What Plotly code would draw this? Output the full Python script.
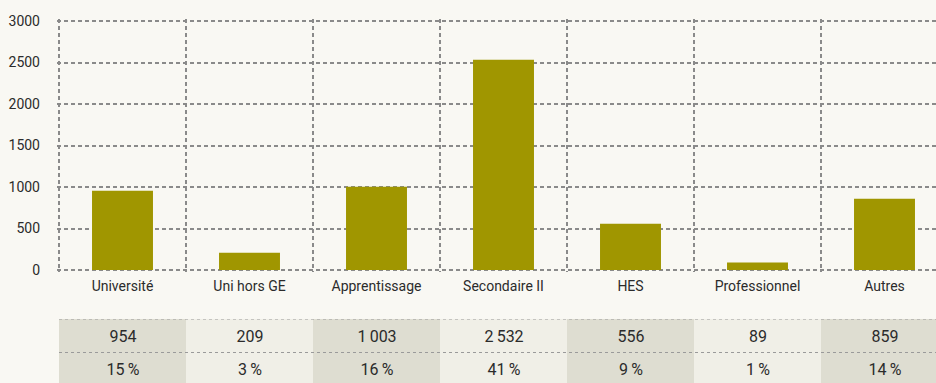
import plotly.graph_objects as go

# Formation categories and counts
categories = ["Université", "Uni hors GE", "Apprentissage", "Secondaire II", "HES", "Professionnel", "Autres"]
counts = [954, 209, 1003, 2532, 556, 89, 859]
shares = [15, 3, 16, 41, 9, 1, 14]
y_ticks = [0, 500, 1000, 1500, 2000, 2500, 3000]

BG = "#f9f8f3"
BAR = "#a09600"
CELL_DARK = "#deddd1"
CELL_LIGHT = "#f0efe7"
TXT = "#2b2b2b"
GRID = "#8a8a8a"
FONT = "Roboto, Arial, sans-serif"

W, H = 936, 383
slot = 127          # pixel width of one category column
x_left_px = 59      # left edge of the first column
y_top_px, y_zero_px = 21, 270
Y_MAX = 3000
EDGE = 2            # pixels of slack so the outer gridlines are drawn
px_per_unit = (y_zero_px - y_top_px) / Y_MAX
pad_units = EDGE / px_per_unit
ML = x_left_px - EDGE


def fmt_num(v):
    return f"{v:,}".replace(",", "\u2009")


def paper_y(py):
    return 1 - py / H


xs = list(range(len(categories)))
x_lo = -0.5 - EDGE / slot
x_hi = x_lo + (W - ML) / slot

fig = go.Figure()

fig.add_trace(go.Bar(
    x=xs, y=counts, marker=dict(color=BAR, line=dict(width=0)),
    width=0.48, hoverinfo="skip", xaxis="x", yaxis="y",
))

# Table below the chart: counts and percentages, alternating column shading
row_text = [[fmt_num(v) for v in counts], [f"{s}\u2009%" for s in shares]]
shade = [i % 2 for i in xs]
fig.add_trace(go.Heatmap(
    x=xs, y=[0, 1], z=[shade, shade],
    colorscale=[[0, CELL_DARK], [1, CELL_LIGHT]], showscale=False,
    text=row_text, texttemplate="%{text}",
    textfont=dict(family=FONT, size=16, color=TXT),
    hoverinfo="skip", xaxis="x2", yaxis="y2", xgap=0, ygap=0,
))

row_h = 33.5
table_top = 319
y2_bottom = -0.5 + (H - table_top) / row_h

for yv in (-0.5, 0.5):
    fig.add_shape(type="line", xref="x2", yref="y2", x0=-0.5, x1=x_hi, y0=yv, y1=yv,
                  line=dict(color="#9a9a9a", width=1, dash="dot"), layer="above")

grid_common = dict(gridcolor=GRID, gridwidth=1.5, griddash="4px,3px")
no_axis = dict(zeroline=False, showline=False, ticks="", automargin=False, fixedrange=True)

fig.update_layout(
    width=W, height=H,
    margin=dict(l=ML, r=0, t=0, b=0, pad=0),
    paper_bgcolor=BG, plot_bgcolor=BG,
    showlegend=False,
    font=dict(family=FONT, size=14, color=TXT),
    xaxis=dict(
        domain=[0, 1], range=[x_lo, x_hi],
        tickmode="array", tickvals=xs, ticktext=categories,
        showgrid=False, ticklabelstandoff=4,
        tickfont=dict(family=FONT, size=14, color=TXT),
        minor=dict(tickmode="linear", tick0=-0.5, dtick=1, showgrid=True, ticks="", **grid_common),
        **no_axis,
    ),
    yaxis=dict(
        domain=[paper_y(y_zero_px + EDGE), paper_y(y_top_px - EDGE)],
        range=[-pad_units, Y_MAX + pad_units],
        tickmode="array", tickvals=y_ticks,
        showgrid=True, ticklabelstandoff=14 + EDGE,
        tickfont=dict(family=FONT, size=14, color=TXT),
        **grid_common, **no_axis,
    ),
    xaxis2=dict(
        domain=[0, 1], range=[x_lo, x_hi], anchor="y2",
        showgrid=False, showticklabels=False, **no_axis,
    ),
    yaxis2=dict(
        domain=[0, paper_y(table_top)], range=[y2_bottom, -0.5], anchor="x2",
        showgrid=False, showticklabels=False, **no_axis,
    ),
)

fig.write_html("out.html", config={"displayModeBar": False})
